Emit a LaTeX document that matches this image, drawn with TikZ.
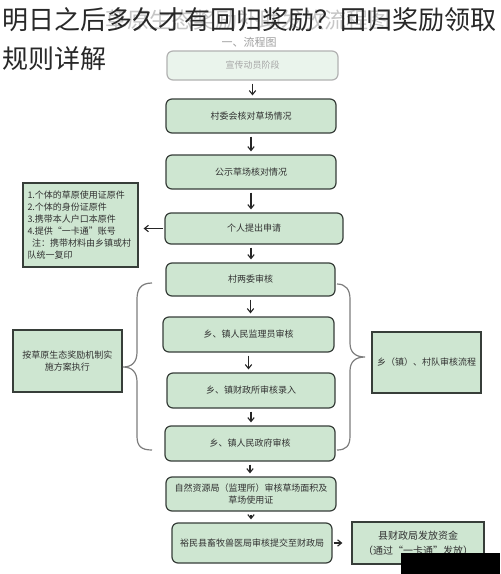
\documentclass[tikz,border=0pt]{standalone}
\usepackage{fontspec}
\setmainfont{Noto Sans CJK SC}
\usetikzlibrary{arrows.meta}
\definecolor{boxfill}{RGB}{206,230,209}
\definecolor{palefill}{RGB}{234,244,236}
\definecolor{boxline}{RGB}{55,62,57}
\definecolor{braceline}{RGB}{125,125,125}
\definecolor{titlecol}{RGB}{40,40,40}
\definecolor{boxtext}{RGB}{50,50,50}
\begin{document}
\begin{tikzpicture}[x=0.5pt,y=-0.5pt,
  box/.style={draw=boxline, fill=boxfill, rounded corners=3pt, line width=0.6pt,
    align=center, text=boxtext, font=\fontsize{4.5}{6}\selectfont, inner sep=1pt},
  palebox/.style={box, draw=gray!60, fill=palefill, text=gray!70},
  sqbox/.style={box, rounded corners=0pt},
  arr/.style={-{Straight Barb[length=2pt,width=3.2pt]}, line width=0.55pt, black!85,
    shorten <=1.5pt, shorten >=1.5pt},
  brace/.style={draw=braceline, line width=0.6pt},
  titletext/.style={text=titlecol, inner sep=0pt, anchor=west, font=\fontsize{13}{15}\selectfont}
]
\useasboundingbox (0,0) rectangle (500,574);
\fill[white] (0,0) rectangle (500,574);

% faint background heading and subtitle
\node[text=gray!45, inner sep=0pt, font=\fontsize{11}{13}\selectfont] (faint) at (248,20) {草原生态奖励补助发放流程图};
\node[text=gray!75, inner sep=0pt, font=\fontsize{5.5}{7}\selectfont] (sub) at (249,42) {一、流程图};

% overlay title
\node[titletext] (t1) at (2,20) {明日之后多久才有回归奖励？回归奖励领取};
\node[titletext] (t2) at (2,59) {规则详解};

% central column
\node[palebox, minimum width=85.5pt, minimum height=14.5pt] (b1) at (252.5,65.5) {宣传动员阶段};
\node[box, minimum width=85pt, minimum height=17pt] (b2) at (251,116) {村委会核对草场情况};
\node[box, minimum width=85pt, minimum height=17pt] (b3) at (251,172) {公示草场核对情况};
\node[box, minimum width=89pt, minimum height=15.5pt] (b4) at (254,228.5) {个人提出申请};
\node[box, minimum width=84.5pt, minimum height=16.5pt] (b5) at (250.5,279.5) {村两委审核};
\node[box, minimum width=85.5pt, minimum height=17.5pt] (b6) at (248.5,334.5) {乡、镇人民监理员审核};
\node[box, minimum width=84pt, minimum height=17.5pt] (b7) at (251,390.5) {乡、镇财政所审核录入};
\node[box, minimum width=85pt, minimum height=17.5pt] (b8) at (250,443.5) {乡、镇人民政府审核};
\node[box, minimum width=85pt, minimum height=17pt] (b9) at (251,494) {自然资源局（监理所）审核草场面积及\\草场使用证};
\node[box, minimum width=80pt, minimum height=20pt] (b10) at (252,543) {裕民县畜牧兽医局审核提交至财政局};
\node[sqbox, minimum width=66pt, minimum height=21pt, font=\fontsize{5}{7.5}\selectfont] (b11) at (418,543) {县财政局发放资金\\（通过“一卡通”发放）};

% side boxes
\node[sqbox, minimum width=57.5pt, minimum height=42pt, text width=53pt, inner xsep=2.25pt, align=left] (L1) at (80.5,225)
  {1.个体的草原使用证原件\\2.个体的身份证原件\\3.携带本人户口本原件\\4.提供“一卡通”账号\\\hspace*{0.5em}注：携带材料由乡镇或村\\队统一复印};
\node[sqbox, minimum width=54.5pt, minimum height=31pt, text width=50pt] (L2) at (67.5,361) {按草原生态奖励机制实\\施方案执行};
\node[sqbox, minimum width=54.5pt, minimum height=30.5pt] (R) at (426.5,362.5) {乡（镇）、村队审核流程};

% arrows
\draw[arr] (b1.south) -- (b1.south |- b2.north);
\draw[arr] (b2.south) -- (b2.south |- b3.north);
\draw[arr] (b3.south) -- (b3.south |- b4.north);
\draw[arr] (b4.south -| b3.south) -- (b3.south |- b5.north);
\draw[arr] (b5.south) -- (b5.south |- b6.north);
\draw[arr] (b6.south) -- (b6.south |- b7.north);
\draw[arr] (b7.south) -- (b7.south |- b8.north);
\draw[arr] (b8.south) -- (b8.south |- b9.north);
\draw[arr] (b9.south) -- (b9.south |- b10.north);
\draw[arr, shorten <=0.5pt, shorten >=2.5pt] (b4.west) -- (L1.east |- b4.west);
\draw[arr, shorten <=0.5pt, shorten >=4.5pt] (b10.east) -- (b11.west);

% braces
\coordinate (ltip) at (123,367);
\coordinate (rtip) at (365,357);
\draw[brace] (152,283) .. controls (141,283) and (137,289) .. (137,299) -- (137,352)
  .. controls (137,362) and (132,367) .. (ltip)
  .. controls (132,367) and (137,372) .. (137,382) -- (137,436)
  .. controls (137,446) and (141,450) .. (152,450);
\draw[brace] (337,284) .. controls (346,284) and (350,290) .. (350,299) -- (350,343)
  .. controls (350,352) and (355,357) .. (rtip)
  .. controls (355,357) and (350,362) .. (350,371) -- (350,436)
  .. controls (350,446) and (346,450) .. (337,450);

% dark patch at lower right
\fill[black] (401,553) rectangle (500,574);
\end{tikzpicture}
\end{document}
